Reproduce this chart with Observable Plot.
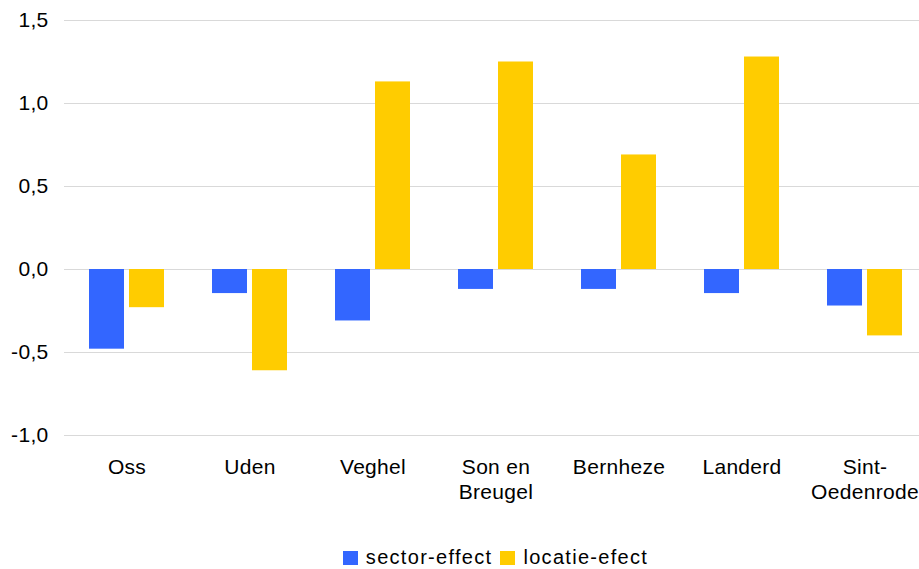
<!DOCTYPE html>
<html>
<head>
<meta charset="utf-8">
<script src="https://cdn.jsdelivr.net/npm/d3@7"></script>
<script src="https://cdn.jsdelivr.net/npm/@observablehq/plot@0.6"></script>
<style>
  html, body { margin: 0; padding: 0; background: #fff; }
  #chart svg { display: block; }
  #legend {
    width: 919px; box-sizing: border-box; padding-left: 72px; padding-top: 0px;
    display: flex; justify-content: center; align-items: center;
    font-family: "Liberation Sans", Arial, sans-serif; font-size: 20px; letter-spacing: 1.3px;
    line-height: 23px; height: 23px; color: #000;
  }
  .item { display: flex; align-items: center; margin: 0 4px; }
  .sw { width: 15px; height: 14px; margin-right: 8px; }
</style>
</head>
<body>
<div id="chart"></div>
<div id="legend"></div>
<script>
const categories = ["Oss", "Uden", "Veghel", "Son en Breugel", "Bernheze", "Landerd", "Sint-Oedenrode"];
const tickLabels = ["Oss", "Uden", "Veghel", "Son en\nBreugel", "Bernheze", "Landerd", "Sint-\nOedenrode"];
const sectorEffect = [-0.48, -0.145, -0.31, -0.12, -0.12, -0.145, -0.22];
const locatieEffect = [-0.23, -0.61, 1.13, 1.25, 0.69, 1.28, -0.40];
const yTicks = [-1.0, -0.5, 0.0, 0.5, 1.0, 1.5];
const seriesNames = ["sector-effect", "locatie-efect"];
const seriesColors = ["#3366ff", "#ffcc00"];

const data = categories.map((c, i) => ({cat: c, sector: sectorEffect[i], locatie: locatieEffect[i]}));
const labelOf = new Map(categories.map((c, i) => [c, tickLabels[i]]));
const fmt = d => d3.format(".1f")(d).replace(".", ",").replace("−", "-");

const chart = Plot.plot({
  width: 919,
  height: 546,
  marginLeft: 64,
  marginRight: 0,
  marginTop: 20,
  marginBottom: 111,
  style: {fontFamily: "'Liberation Sans', Arial, sans-serif", fontSize: "21px", color: "#000", background: "#fff", letterSpacing: "0.3px"},
  x: {type: "band", domain: categories, range: [64, 926], padding: 0},
  y: {domain: [-1, 1.5]},
  marks: [
    Plot.gridY(yTicks, {stroke: "#d9d9d9", strokeOpacity: 1, strokeWidth: 1.2}),
    Plot.axisY(yTicks, {tickSize: 0, tickPadding: 16, tickFormat: fmt, label: null, fill: "#000"}),
    Plot.barY(data, {x: "cat", y: "sector", fill: seriesColors[0], insetLeft: 24, insetRight: 64}),
    Plot.barY(data, {x: "cat", y: "locatie", fill: seriesColors[1], insetLeft: 64, insetRight: 24}),
    Plot.axisX({tickSize: 0, tickPadding: 21, tickFormat: d => labelOf.get(d), lineHeight: 1.19, label: null, fill: "#000"})
  ]
});
document.getElementById("chart").appendChild(chart);

const legend = document.getElementById("legend");
seriesNames.forEach((n, i) => {
  const it = document.createElement("div");
  it.className = "item";
  it.innerHTML = `<span class="sw" style="background:${seriesColors[i]}"></span><span>${n}</span>`;
  legend.appendChild(it);
});
</script>
</body>
</html>
